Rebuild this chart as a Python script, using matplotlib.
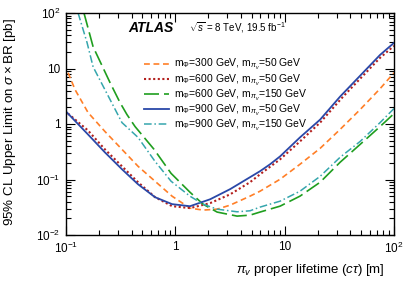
import matplotlib
matplotlib.use("Agg")
import matplotlib.pyplot as plt
from matplotlib.ticker import NullFormatter, LogLocator, FixedLocator, FixedFormatter

plt.rcParams['font.family'] = ['Liberation Sans', 'DejaVu Sans']
plt.rcParams['mathtext.fontset'] = 'custom'
plt.rcParams['mathtext.rm'] = 'Liberation Sans'
plt.rcParams['mathtext.it'] = 'Liberation Sans:italic'
plt.rcParams['mathtext.bf'] = 'Liberation Sans:bold'

# ---- data ----
x_300_50 = [0.1045, 0.121, 0.159, 0.227, 0.325, 0.456, 0.652, 0.933, 1.36, 1.79, 2.41,
            3.17, 4.82, 5.95, 9.08, 13.8, 21.1, 32.1, 49.0, 74.6, 100]
y_300_50 = [8.39, 4.16, 1.61, 0.733, 0.349, 0.173, 0.0931, 0.0501, 0.0305, 0.0281, 0.0292,
            0.0345, 0.0501, 0.0615, 0.101, 0.188, 0.364, 0.797, 1.82, 4.33, 8.39]

x_600_50 = [0.1045, 0.159, 0.227, 0.325, 0.456, 0.652, 0.933, 1.36, 2.08, 3.17, 4.82,
            5.95, 9.08, 13.8, 21.1, 34.2, 74.6, 100]
y_600_50 = [1.54, 0.764, 0.349, 0.173, 0.0893, 0.0481, 0.0331, 0.0305, 0.0375, 0.054, 0.0893,
            0.124, 0.231, 0.485, 1.06, 3.11, 15.6, 25.6]

x_600_150 = [0.146, 0.177, 0.253, 0.312, 0.361, 0.428, 0.639, 0.914, 1.36, 1.79, 2.41,
             3.67, 4.82, 5.95, 9.08, 13.8, 21.1, 32.1, 49.0, 74.6, 100]
y_600_150 = [100, 24.6, 5.55, 2.43, 1.48, 0.90, 0.349, 0.129, 0.0591, 0.0360, 0.0259,
             0.0219, 0.0228, 0.0259, 0.0331, 0.0501, 0.0893, 0.204, 0.429, 0.90, 1.54]

x_900_50 = [0.1, 0.159, 0.227, 0.325, 0.456, 0.652, 0.933, 1.36, 2.08, 3.17, 4.82,
            5.95, 7.35, 9.08, 13.8, 21.1, 32.1, 74.6, 100]
y_900_50 = [1.68, 0.648, 0.308, 0.153, 0.082, 0.048, 0.036, 0.033, 0.044, 0.067, 0.11,
            0.141, 0.188, 0.261, 0.573, 1.20, 3.11, 17.6, 29.0]

x_900_150 = [0.129, 0.156, 0.177, 0.253, 0.325, 0.456, 0.652, 0.914, 1.36, 1.79, 2.41,
             3.67, 4.82, 5.95, 9.08, 13.8, 21.1, 32.1, 49.0, 74.6, 100]
y_900_150 = [100, 29.0, 10.7, 2.75, 1.06, 0.573, 0.212, 0.0931, 0.0501, 0.0360, 0.0292,
             0.0262, 0.0273, 0.0318, 0.0407, 0.0615, 0.114, 0.251, 0.485, 1.06, 1.90]

labels = [r"m$_{\Phi}$=300 GeV, m$_{\pi_{v}}$=50 GeV",
          r"m$_{\Phi}$=600 GeV, m$_{\pi_{v}}$=50 GeV",
          r"m$_{\Phi}$=600 GeV, m$_{\pi_{v}}$=150 GeV",
          r"m$_{\Phi}$=900 GeV, m$_{\pi_{v}}$=50 GeV",
          r"m$_{\Phi}$=900 GeV, m$_{\pi_{v}}$=150 GeV"]

xticks = [0.1, 1, 10, 100]
xticklabels = [r"$10^{-1}$", "1", "10", r"$10^{2}$"]
yticks = [0.01, 0.1, 1, 10, 100]
yticklabels = [r"$10^{-2}$", r"$10^{-1}$", "1", "10", r"$10^{2}$"]

fig = plt.figure(figsize=(4.15, 2.81), dpi=100)
ax = fig.add_axes([66/415, 1-235/281, 328/415, 222/281])

ax.plot(x_300_50, y_300_50, color='#ff7f27', lw=1.2, dashes=(3.5, 2.2), label=labels[0])
ax.plot(x_600_50, y_600_50, color='#b3201e', lw=1.5, dashes=(1.0, 1.2), label=labels[1])
ax.plot(x_600_150, y_600_150, color='#1f9e1f', lw=1.2, dashes=(9, 3), label=labels[2])
ax.plot(x_900_50, y_900_50, color='#2a48a8', lw=1.3, label=labels[3])
ax.plot(x_900_150, y_900_150, color='#35a6ad', lw=1.1, dashes=(5, 1.8, 1, 1.8), label=labels[4])

ax.set_xscale('log')
ax.set_yscale('log')
ax.set_xlim(0.1, 100)
ax.set_ylim(0.01, 100)

ax.xaxis.set_major_locator(FixedLocator(xticks))
ax.xaxis.set_major_formatter(FixedFormatter(xticklabels))
ax.yaxis.set_major_locator(FixedLocator(yticks))
ax.yaxis.set_major_formatter(FixedFormatter(yticklabels))
ax.xaxis.set_minor_locator(LogLocator(base=10, subs=range(2, 10)))
ax.yaxis.set_minor_locator(LogLocator(base=10, subs=range(2, 10)))
ax.xaxis.set_minor_formatter(NullFormatter())
ax.yaxis.set_minor_formatter(NullFormatter())

ax.tick_params(which='both', direction='in', top=True, right=True, labelsize=8.5, width=0.8)
ax.tick_params(which='major', length=6.5, pad=4)
ax.tick_params(which='minor', length=3.3)
for s in ax.spines.values():
    s.set_linewidth(1.0)

ax.set_ylabel(r"95% CL Upper Limit on $\sigma\times$BR [pb]", fontsize=9.6)
ax.yaxis.set_label_coords(-0.145, 0.51)
ax.set_xlabel(r"$\pi_{v}$ proper lifetime ($c\tau$) [m]", fontsize=9.5, ha='right')
ax.xaxis.set_label_coords(0.973, -0.12)

ax.text(0.189, 0.932, "ATLAS", transform=ax.transAxes, fontsize=10, fontweight='bold',
        fontstyle='italic', va='center', ha='left')
ax.text(0.375, 0.932, r"$\sqrt{s}$ = 8 TeV, 19.5 fb$^{-1}$", transform=ax.transAxes,
        fontsize=7.0, va='center', ha='left')

leg = ax.legend(loc='upper left', bbox_to_anchor=(0.237, 0.80), frameon=False,
                fontsize=7.5, handlelength=2.4, handletextpad=0.5, labelspacing=0.0,
                borderaxespad=0, borderpad=0)

fig.savefig("out.png", dpi=100)
